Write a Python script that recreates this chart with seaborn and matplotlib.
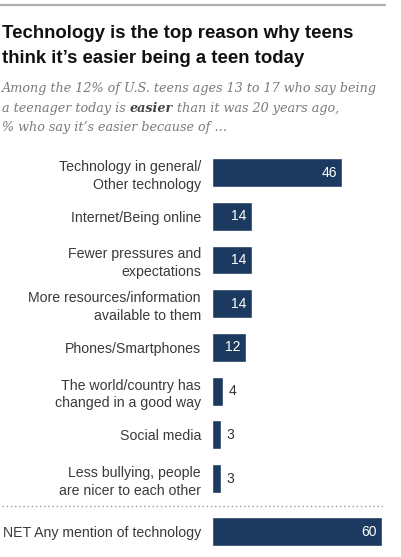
import matplotlib
matplotlib.use("Agg")
import matplotlib.pyplot as plt
from matplotlib.text import Annotation
import seaborn as sns

# -----------------------------
# DATA
# -----------------------------

reasons = [
    "Technology in general/\nOther technology",
    "Internet/Being online",
    "Fewer pressures and\nexpectations",
    "More resources/information\navailable to them",
    "Phones/Smartphones",
    "The world/country has\nchanged in a good way",
    "Social media",
    "Less bullying, people\nare nicer to each other",
]
shares = [46, 14, 14, 14, 12, 4, 3, 3]

net_label = ["NET Any mention of technology"]
net_share = [60]

# -----------------------------
# STYLE
# -----------------------------

sns.set_style("white")
plt.rcParams["font.family"] = ["Liberation Sans", "DejaVu Sans"]

BAR = "#1c3a5f"
LABEL = "#3a3a3a"
W, H = 401, 557

fig = plt.figure(figsize=(W / 100, H / 100), dpi=100)


def fx(px):
    return px / W


def fy(px):
    return 1 - px / H


# top rule
fig.add_artist(plt.Line2D([fx(0), fx(385)], [fy(5), fy(5)], color="#b0b0b0", lw=1.6))

# title
fig.text(fx(2), fy(38), "Technology is the top reason why teens", fontsize=13.4,
         fontweight="bold", color="#111111", va="baseline")
fig.text(fx(2), fy(63), "think it\u2019s easier being a teen today", fontsize=13.4,
         fontweight="bold", color="#111111", va="baseline")

# subtitle (second line has a bold word in the middle)
sub = dict(fontsize=9.2, style="italic", color="#7a7a7a", family="DejaVu Serif")
fig.text(fx(2), fy(92), "Among the 12% of U.S. teens ages 13 to 17 who say being",
         va="baseline", **sub)
t1 = fig.text(fx(2), fy(112), "a teenager today is ", va="baseline", **sub)
t2 = Annotation("easier", xy=(1, 0), xycoords=t1, xytext=(0, 0), textcoords="offset points",
                va="bottom", ha="left", fontweight="bold", **dict(sub, color="#444444"))
fig.add_artist(t2)
t3 = Annotation(" than it was 20 years ago,", xy=(1, 0), xycoords=t2, xytext=(0, 0),
                textcoords="offset points", va="bottom", ha="left", **sub)
fig.add_artist(t3)
fig.text(fx(2), fy(131), "% who say it\u2019s easier because of \u2026", va="baseline", **sub)

# -----------------------------
# BARS
# -----------------------------

row = 43.71
left, right = 212, 382  # pixels for 0 and 60
xmax = 60

ax = fig.add_axes([fx(left), fy(478.5 + row / 2), fx(right - left),
                   (len(reasons) * row) / H])
sns.barplot(x=shares, y=reasons, color=BAR, width=0.66, orient="h", ax=ax,
            saturation=1)

ax_net = fig.add_axes([fx(left), fy(531.5 + row / 2), fx(right - left), row / H])
sns.barplot(x=net_share, y=net_label, color=BAR, width=0.66, orient="h", ax=ax_net,
            saturation=1)

for a, vals in ((ax, shares), (ax_net, net_share)):
    a.set_xlim(0, xmax)
    a.set_xlabel("")
    a.set_ylabel("")
    a.set_xticks([])
    sns.despine(ax=a, left=True, bottom=True)
    a.tick_params(axis="y", length=0, pad=8, labelsize=10.2, labelcolor=LABEL)
    for lab in a.get_yticklabels():
        lab.set_linespacing(1.35)
    for i, v in enumerate(vals):
        if v >= 10:
            a.annotate(str(v), xy=(v, i), xytext=(-4, 0), textcoords="offset points",
                       ha="right", va="center", color="white", fontsize=10)
        else:
            a.annotate(str(v), xy=(v, i), xytext=(4, 0), textcoords="offset points",
                       ha="left", va="center", color="#333333", fontsize=10)

# dotted separator
fig.add_artist(plt.Line2D([fx(2), fx(385)], [fy(506), fy(506)], color="#9a9a9a",
                          lw=1, linestyle=(0, (1, 2))))

fig.savefig("out.png", dpi=100)
